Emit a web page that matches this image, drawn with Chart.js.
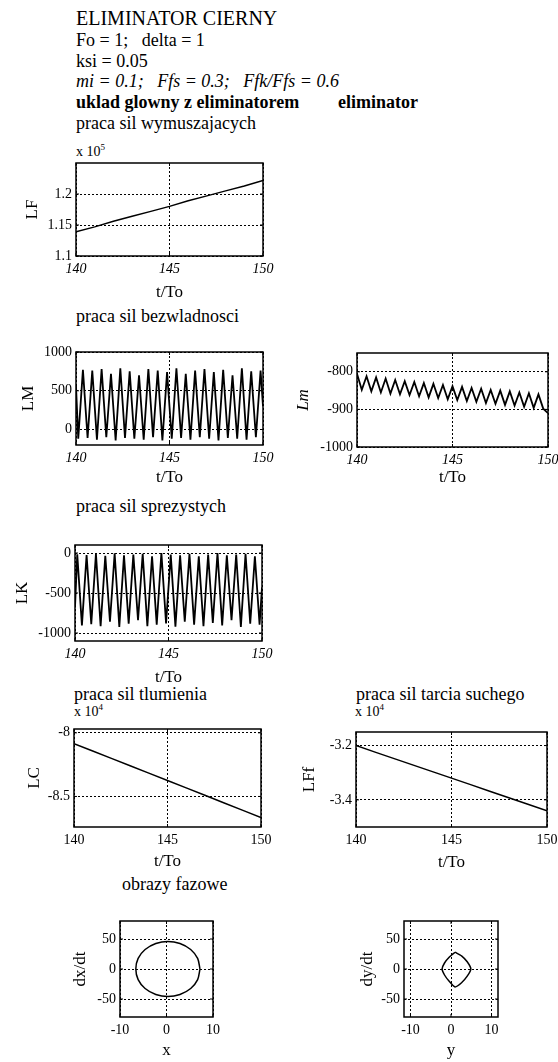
<!DOCTYPE html>
<html>
<head>
<meta charset="utf-8">
<script src="https://cdn.jsdelivr.net/npm/chart.js@4"></script>
<style>
  html, body { margin: 0; padding: 0; background: #fff; font-family: "Liberation Serif", "DejaVu Serif", serif; }
  #page { position: relative; width: 558px; height: 1062px; overflow: hidden; color: #000; }
  .t { position: absolute; white-space: pre; line-height: 1; font-size: 18px; font-family: "Liberation Serif", "DejaVu Serif", serif; }
  .b { font-weight: bold; }
  .i { font-style: italic; }
  .e { font-size: 14px; }
  .e sup { font-size: 9px; vertical-align: 6px; }
  canvas { position: absolute; }
</style>
</head>
<body>
<div id="page">
  <div class="t" style="left:76px;top:8px;font-size:20px">ELIMINATOR CIERNY</div>
  <div class="t" style="left:76px;top:31px">Fo = 1;   delta = 1</div>
  <div class="t" style="left:76px;top:52px">ksi = 0.05</div>
  <div class="t i" style="left:76px;top:72px">mi = 0.1;   Ffs = 0.3;   Ffk/Ffs = 0.6</div>
  <div class="t b" style="left:76px;top:93px">uklad glowny z eliminatorem</div>
  <div class="t b" style="left:338px;top:93px">eliminator</div>
  <div class="t" style="left:76px;top:114px">praca sil wymuszajacych</div>
  <div class="t e" style="left:76px;top:143px">x 10<sup>5</sup></div>
  <div class="t" style="left:76px;top:307px">praca sil bezwladnosci</div>
  <div class="t" style="left:76px;top:497px">praca sil sprezystych</div>
  <div class="t" style="left:74px;top:685px">praca sil tlumienia</div>
  <div class="t e" style="left:74px;top:703px">x 10<sup>4</sup></div>
  <div class="t" style="left:356px;top:685px">praca sil tarcia suchego</div>
  <div class="t e" style="left:355px;top:703px">x 10<sup>4</sup></div>
  <div class="t" style="left:122px;top:875px">obrazy fazowe</div>
</div>
<script>
// time axis
const tUnit = [140, 141, 142, 143, 144, 145, 146, 147, 148, 149, 150];
const tTicks = [140, 145, 150];

// praca sil wymuszajacych (x 10^5)
const lfVals = [1.139, 1.147, 1.156, 1.164, 1.172, 1.180, 1.189, 1.197, 1.205, 1.213, 1.222];
const lfTicks = [1.1, 1.15, 1.2];

// praca sil bezwladnosci / sprezystych - uklad glowny
const lmT = [140, 140.12, 140.37, 140.62, 140.87, 141.12, 141.37, 141.62, 141.87, 142.12, 142.37,
  142.62, 142.87, 143.12, 143.37, 143.62, 143.87, 144.12, 144.37, 144.62, 144.87,
  145.12, 145.37, 145.62, 145.87, 146.12, 146.37, 146.62, 146.87, 147.12, 147.37,
  147.62, 147.87, 148.12, 148.37, 148.62, 148.87, 149.12, 149.37, 149.62, 149.87, 150];
const lmVals = [560, -120, 770, -110, 760, -130, 780, -100, 720, -140, 790, -110, 750, -120, 700,
  -130, 780, -100, 760, -140, 740, -120, 790, -110, 720, -130, 760, -100, 780, -120, 740,
  -140, 770, -110, 700, -120, 790, -130, 750, -100, 760, 300];
const lmTicks = [0, 500, 1000];
const lkVals = [-680, -15, -905, -25, -890, -10, -915, -35, -860, -5, -925, -30, -885, -20, -840,
  -10, -915, -40, -895, 0, -880, -20, -920, -30, -860, -10, -895, -40, -915, -20, -875,
  0, -905, -30, -840, -20, -925, -10, -885, -40, -895, -430];
const lkTicks = [-1000, -500, 0];

// praca sil bezwladnosci - eliminator
const elT = [140, 140.25, 140.5, 140.75, 141, 141.25, 141.5, 141.75, 142, 142.25, 142.5,
  142.75, 143, 143.25, 143.5, 143.75, 144, 144.25, 144.5, 144.75, 145,
  145.25, 145.5, 145.75, 146, 146.25, 146.5, 146.75, 147, 147.25, 147.5,
  147.75, 148, 148.25, 148.5, 148.75, 149, 149.25, 149.5, 149.75, 150];
const elVals = [-805, -848, -812, -852, -815, -855, -818, -858, -822, -860, -825, -862, -827, -865,
  -830, -868, -832, -870, -835, -873, -838, -875, -840, -878, -843, -880, -845, -883,
  -848, -885, -850, -888, -852, -890, -855, -893, -857, -896, -860, -898, -910];
const elTicks = [-1000, -900, -800];

// praca sil tlumienia (x 10^4), tarcia suchego (x 10^4)
const lcVals = [-8.085, -8.143, -8.201, -8.259, -8.317, -8.375, -8.433, -8.491, -8.549, -8.607, -8.665];
const lcTicks = [-8.5, -8];
const lffVals = [-3.200, -3.224, -3.248, -3.272, -3.296, -3.320, -3.344, -3.368, -3.392, -3.416, -3.440];
const lffTicks = [-3.4, -3.2];

// obrazy fazowe
const pxX = [7.2, 6.7, 5.2, 2.9, 0.3, -2.3, -4.6, -6.1, -6.6, -6.1, -4.6, -2.3, 0.3, 2.9, 5.2, 6.7, 7.2];
const pxV = [0, 17.6, 32.5, 42.5, 46, 42.5, 32.5, 17.6, 0, -17.6, -32.5, -42.5, -46, -42.5, -32.5, -17.6, 0];
const pyX = [1.0, 2.6, 4.0, 4.9, 4.0, 2.6, 1.0, -0.5, -1.6, -2.2, -1.6, -0.4, 1.0];
const pyV = [28, 22, 12, 0, -12, -23, -30, -20, -10, 0, 10, 20, 28];
const phaseXTicks = [-10, 0, 10];
const phaseYTicks = [-50, 0, 50];

Chart.defaults.font.family = "'Liberation Serif', 'DejaVu Serif', serif";
Chart.defaults.color = '#000';

const boxPlugin = {
    id: 'box',
    afterDraw(chart) {
        const { ctx, chartArea: a, scales } = chart;
        ctx.save();
        ctx.strokeStyle = '#000';
        ctx.lineWidth = 1.5;
        ctx.strokeRect(a.left, a.top, a.right - a.left, a.bottom - a.top);
        // small inward tick marks like the original
        ctx.lineWidth = 1;
        scales.x.ticks.forEach(t => {
            const px = scales.x.getPixelForValue(t.value);
            ctx.beginPath();
            ctx.moveTo(px, a.bottom); ctx.lineTo(px, a.bottom - 3);
            ctx.moveTo(px, a.top); ctx.lineTo(px, a.top + 3);
            ctx.stroke();
        });
        scales.y.ticks.forEach(t => {
            const py = scales.y.getPixelForValue(t.value);
            ctx.beginPath();
            ctx.moveTo(a.left, py); ctx.lineTo(a.left + 3, py);
            ctx.moveTo(a.right, py); ctx.lineTo(a.right - 3, py);
            ctx.stroke();
        });
        ctx.restore();
    }
};

function pairs(xs, ys) {
    return xs.map((x, i) => ({ x: x, y: ys[i] }));
}

function panel(o) {
    const titleSize = 17, lh = titleSize * 1.2;
    const left = Math.round(o.ylabelX - lh / 2);
    const top = o.T - 10;
    const right = Math.min(558, o.R + 14);
    const bottom = Math.round(o.xlabelY + lh / 2);
    const axisW = o.L - left, axisH = bottom - o.B;
    const cv = document.createElement('canvas');
    cv.width = right - left;
    cv.height = bottom - top;
    cv.style.left = left + 'px';
    cv.style.top = top + 'px';
    cv.style.width = (right - left) + 'px';
    cv.style.height = (bottom - top) + 'px';
    document.getElementById('page').appendChild(cv);

    const tickFont = { size: 14, style: o.italicX ? 'italic' : 'normal' };
    new Chart(cv, {
        type: 'line',
        data: {
            datasets: [{
                data: o.points,
                borderColor: '#000',
                borderWidth: o.lw || 1.5,
                pointRadius: 0,
                tension: o.tension || 0,
                fill: false
            }]
        },
        options: {
            responsive: false,
            animation: false,
            events: [],
            layout: { padding: { top: 10, right: right - o.R, left: 0, bottom: 0 } },
            plugins: { legend: { display: false }, tooltip: { enabled: false } },
            scales: {
                x: {
                    type: 'linear',
                    min: o.xMin, max: o.xMax,
                    afterBuildTicks: s => { s.ticks = o.xTicks.map(v => ({ value: v })); },
                    afterFit: s => { s.height = axisH; s.paddingLeft = 0; s.paddingRight = 0; },
                    grid: { color: '#000', lineWidth: 1, drawTicks: false },
                    border: { display: false, dash: [2, 2] },
                    ticks: { padding: 5, font: tickFont, maxRotation: 0, callback: v => String(v) },
                    title: { display: true, text: o.xlabel, font: { size: titleSize }, padding: 0 }
                },
                y: {
                    type: 'linear',
                    min: o.yMin, max: o.yMax,
                    afterBuildTicks: s => { s.ticks = o.yTicks.map(v => ({ value: v })); },
                    afterFit: s => { s.width = axisW; s.paddingTop = 0; s.paddingBottom = 0; },
                    grid: { color: '#000', lineWidth: 1, drawTicks: false },
                    border: { display: false, dash: [2, 2] },
                    ticks: { padding: 4, font: { size: 14 }, callback: v => String(v) },
                    title: { display: true, text: o.ylabel, font: { size: titleSize, style: o.italicY ? 'italic' : 'normal' }, padding: 0 }
                }
            }
        },
        plugins: [boxPlugin]
    });
}

panel({ L: 76, T: 163, R: 263, B: 256, ylabelX: 32, xlabelY: 293, italicX: true,
    points: pairs(tUnit, lfVals), xMin: 140, xMax: 150, xTicks: tTicks,
    yMin: 1.1, yMax: 1.25, yTicks: lfTicks, xlabel: 't/To', ylabel: 'LF' });

panel({ L: 76, T: 352, R: 263, B: 445, ylabelX: 28, xlabelY: 478, italicX: true, lw: 1.8,
    points: pairs(lmT, lmVals), xMin: 140, xMax: 150, xTicks: tTicks,
    yMin: -200, yMax: 1000, yTicks: lmTicks, xlabel: 't/To', ylabel: 'LM' });

panel({ L: 357, T: 353, R: 548, B: 447, ylabelX: 303, xlabelY: 478, italicX: true, italicY: true, lw: 1.8,
    points: pairs(elT, elVals), xMin: 140, xMax: 150, xTicks: tTicks,
    yMin: -1000, yMax: -750, yTicks: elTicks, xlabel: 't/To', ylabel: 'Lm' });

panel({ L: 75, T: 545, R: 262, B: 641, ylabelX: 22, xlabelY: 678, italicX: true, lw: 1.8,
    points: pairs(lmT, lkVals), xMin: 140, xMax: 150, xTicks: tTicks,
    yMin: -1100, yMax: 100, yTicks: lkTicks, xlabel: 't/To', ylabel: 'LK' });

panel({ L: 74, T: 729, R: 261, B: 827, ylabelX: 34, xlabelY: 862,
    points: pairs(tUnit, lcVals), xMin: 140, xMax: 150, xTicks: tTicks,
    yMin: -8.74, yMax: -7.97, yTicks: lcTicks, xlabel: 't/To', ylabel: 'LC' });

panel({ L: 356, T: 732, R: 547, B: 827, ylabelX: 309, xlabelY: 863,
    points: pairs(tUnit, lffVals), xMin: 140, xMax: 150, xTicks: tTicks,
    yMin: -3.5, yMax: -3.15, yTicks: lffTicks, xlabel: 't/To', ylabel: 'LFf' });

panel({ L: 120, T: 921, R: 213, B: 1017, ylabelX: 80, xlabelY: 1051, tension: 0.3,
    points: pairs(pxX, pxV), xMin: -10, xMax: 10, xTicks: phaseXTicks,
    yMin: -80, yMax: 80, yTicks: phaseYTicks, xlabel: 'x', ylabel: 'dx/dt' });

panel({ L: 404, T: 921, R: 498, B: 1017, ylabelX: 367, xlabelY: 1051, tension: 0.2,
    points: pairs(pyX, pyV), xMin: -11.6, xMax: 11.6, xTicks: phaseXTicks,
    yMin: -80, yMax: 80, yTicks: phaseYTicks, xlabel: 'y', ylabel: 'dy/dt' });
</script>
</body>
</html>
